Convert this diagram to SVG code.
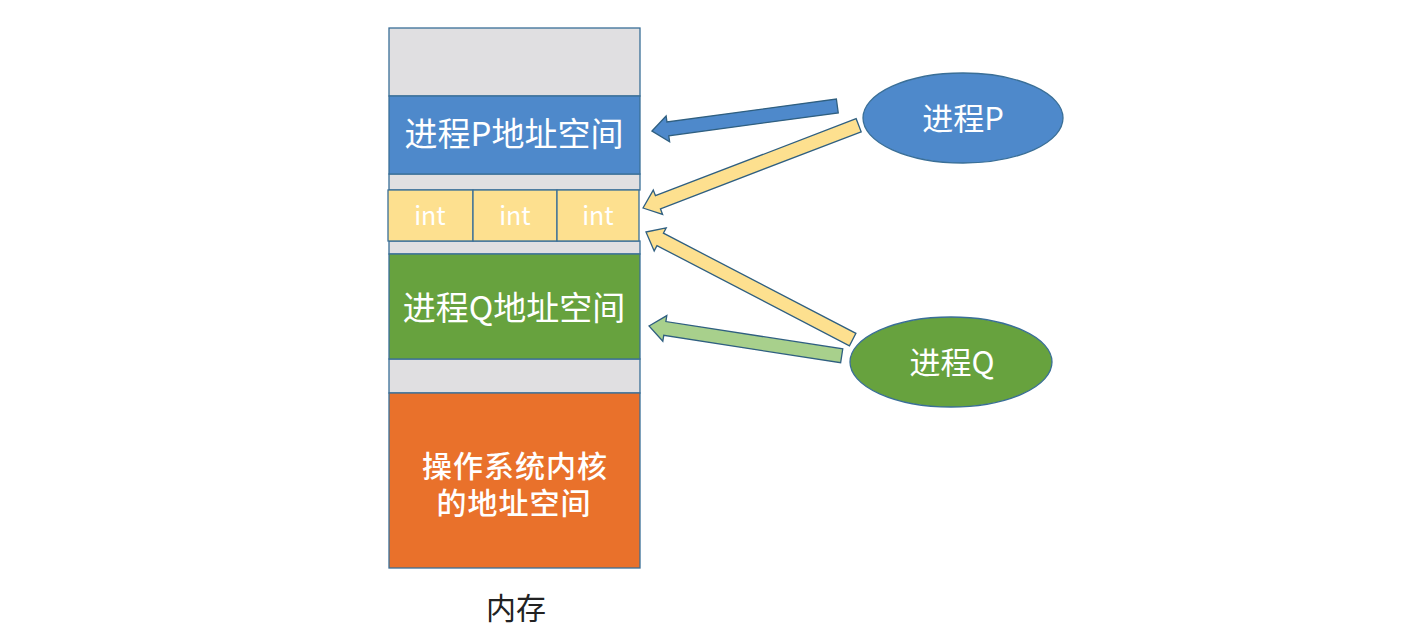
<svg xmlns="http://www.w3.org/2000/svg" width="1405" height="629" viewBox="0 0 1405 629">
<style>
.blk{stroke:#3a6f97;stroke-width:1.3}
.t{font-family:"Noto Sans CJK SC","Noto Sans",sans-serif;fill:#ffffff;text-anchor:middle}
.k{font-family:"Liberation Sans","Noto Sans CJK SC",sans-serif;fill:#ffffff;text-anchor:middle}
.arr{stroke:#2f5f80;stroke-width:1.3;stroke-linejoin:miter}
</style>
<rect width="1405" height="629" fill="#ffffff"/>
<g id="memory">
<rect class="blk" x="389" y="28" width="251" height="68" fill="#e0dfe1"/>
<rect class="blk" x="389" y="174" width="251" height="16" fill="#e0dfe1"/>
<rect class="blk" x="389" y="241" width="251" height="13" fill="#e0dfe1"/>
<rect class="blk" x="389" y="359" width="251" height="34" fill="#e0dfe1"/>
</g>
<g id="p-space">
<rect class="blk" x="389" y="96" width="251" height="78" fill="#4e89cb"/>
<text class="t" x="514" y="146" font-size="33">进程P地址空间</text>
</g>
<g id="shared">
<rect class="blk" x="388" y="190" width="85" height="51" fill="#fde08f"/>
<rect class="blk" x="473" y="190" width="84" height="51" fill="#fde08f"/>
<rect class="blk" x="557" y="190" width="82" height="51" fill="#fde08f"/>
<text class="t" x="430" y="225" font-size="25">int</text>
<text class="t" x="515" y="225" font-size="25">int</text>
<text class="t" x="598" y="225" font-size="25">int</text>
</g>
<g id="q-space">
<rect class="blk" x="389" y="254" width="251" height="105" fill="#67a23e"/>
<text class="t" x="514" y="320" font-size="33">进程Q地址空间</text>
</g>
<g id="kernel">
<rect class="blk" x="389" y="393" width="251" height="175" fill="#e9712b"/>
<text class="k" x="515" y="477" font-size="30" font-weight="500" letter-spacing="1">操作系统内核</text>
<text class="k" x="514" y="514" font-size="30" font-weight="500" letter-spacing="1">的地址空间</text>
</g>
<text x="516" y="619" font-size="30" fill="#222222" text-anchor="middle" font-family="Noto Sans CJK SC,sans-serif">内存</text>
<g id="proc-p">
<ellipse cx="963" cy="118" rx="100" ry="45" fill="#4e89cb" stroke="#3a6f97" stroke-width="1.3"/>
<text class="t" x="963" y="130" font-size="31">进程P</text>
</g>
<g id="proc-q">
<ellipse cx="951" cy="362" rx="101" ry="45" fill="#67a23e" stroke="#3a6f97" stroke-width="1.3"/>
<text class="t" x="952" y="374" font-size="31">进程Q</text>
</g>
<g id="connectors">
<polygon class="arr" fill="#4e89cb" transform="translate(652,131) rotate(-7.7)" points="0,0 16,-13 16,-7 187,-7 187,7 16,7 16,13"/>
<polygon class="arr" fill="#fde08f" transform="translate(643,208) rotate(-21)" points="0,0 16,-13 16,-7 231,-7 231,7 16,7 16,13"/>
<polygon class="arr" fill="#fde08f" transform="translate(646,232) rotate(27.5)" points="0,0 16,-13 16,-7 233,-7 233,7 16,7 16,13"/>
<polygon class="arr" fill="#a8d08c" transform="translate(649,326) rotate(8.8)" points="0,0 16,-13 16,-7 195,-7 195,7 16,7 16,13"/>
</g>
</svg>
